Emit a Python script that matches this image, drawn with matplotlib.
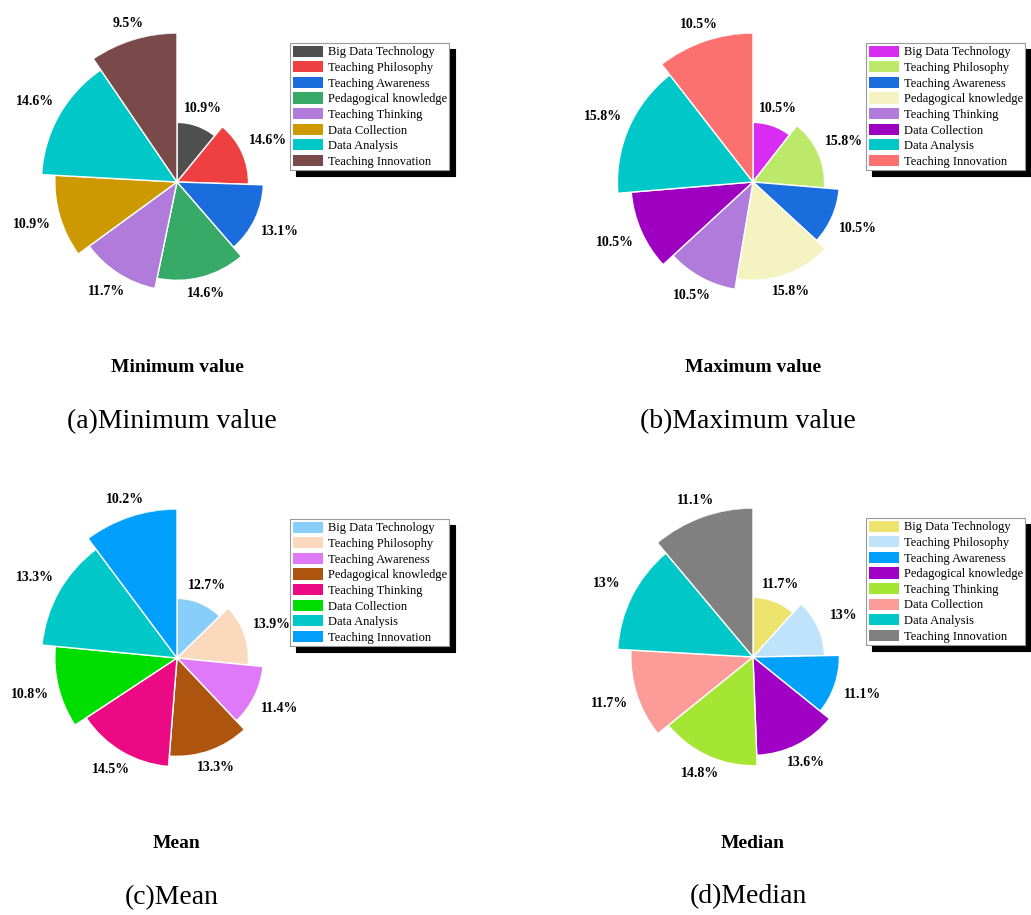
"""Rose-style pie charts of indicator weights (min / max / mean / median)."""

import matplotlib

matplotlib.use("Agg")
import matplotlib.pyplot as plt
import numpy as np

plt.rcParams["font.family"] = ["Liberation Serif", "DejaVu Serif"]

CATEGORIES = [
    "Big Data Technology",
    "Teaching Philosophy",
    "Teaching Awareness",
    "Pedagogical knowledge",
    "Teaching Thinking",
    "Data Collection",
    "Data Analysis",
    "Teaching Innovation",
]

MIN_VALUES = [10.9, 14.6, 13.1, 14.6, 11.7, 10.9, 14.6, 9.5]
MAX_VALUES = [10.5, 15.8, 10.5, 15.8, 10.5, 10.5, 15.8, 10.5]
MEAN_VALUES = [12.7, 13.9, 11.4, 13.3, 14.5, 10.8, 13.3, 10.2]
MEDIAN_VALUES = [11.7, 13, 11.1, 13.6, 14.8, 11.7, 13, 11.1]

# sector radius grows with the sector's position in the list
RADII = [0.40, 0.48, 0.58, 0.66, 0.73, 0.82, 0.91, 1.0]

MIN_COLORS = ["#4f4f4f", "#ee4040", "#1b6dde", "#37aa68", "#b07bdb", "#cc9900", "#00c8c8", "#7a4a4a"]
MAX_COLORS = ["#d92cf2", "#bce96a", "#1a6ddd", "#f6f3c2", "#b07bdb", "#9e00c2", "#00c8c8", "#fb716f"]
MEAN_COLORS = ["#87cefa", "#fad9bd", "#e079f7", "#ad540f", "#ec0a84", "#00dd00", "#00c8c8", "#009ffb"]
MEDIAN_COLORS = ["#ece46d", "#bfe3fb", "#00a0fb", "#a100c5", "#a5e634", "#fb9c98", "#00c8c8", "#808080"]

W, H = 1031, 915


def fx(px):
    return px / W


def fy(py):
    return 1 - py / H


def rose(fig, cx, cy, values, colors, subtitle, caption, rmax=149):
    ax = fig.add_axes([fx(cx - rmax), fy(cy + rmax), 2 * rmax / W, 2 * rmax / H], projection="polar")
    ax.set_theta_zero_location("N")
    ax.set_theta_direction(-1)
    vals = np.array(values, dtype=float)
    widths = vals / vals.sum() * 2 * np.pi
    starts = np.concatenate([[0], np.cumsum(widths)[:-1]])
    bars = ax.bar(starts, RADII, width=widths, align="edge", color=colors,
                  edgecolor="white", linewidth=1.0)
    for start, width, r, v in zip(starts, widths, RADII, values):
        mid = start + width / 2
        off = 0.08 + 0.12 * abs(np.sin(mid))
        ax.text(mid, r + off, f"{v:g}%", ha="center", va="center",
                fontsize=10, fontweight="bold")
    ax.set_ylim(0, 1)
    ax.set_axis_off()

    lx, ly = cx + 113, cy - 139
    leg = ax.legend(bars, CATEGORIES, loc="upper left", bbox_to_anchor=(fx(lx), fy(ly)),
                    bbox_transform=fig.transFigure, fontsize=9, frameon=True,
                    fancybox=False, framealpha=1, edgecolor="#999999",
                    borderpad=0.2, labelspacing=0.22, handlelength=2.4,
                    handleheight=1.0, handletextpad=0.4, borderaxespad=0,
                    shadow={"ox": 4, "oy": -4, "facecolor": "black",
                            "edgecolor": "black", "alpha": 1})
    leg.get_frame().set_linewidth(0.8)
    for h in leg.legend_handles:
        h.set_edgecolor("none")

    fig.text(fx(cx), fy(cy + 186), subtitle, ha="center", va="center",
             fontsize=14, fontweight="bold")
    fig.text(fx(cx - 5), fy(cy + 240), caption, ha="center", va="center", fontsize=20)


def main():
    fig = plt.figure(figsize=(W / 100, H / 100), dpi=100)
    rose(fig, 177, 182, MIN_VALUES, MIN_COLORS, "Minimum value", "(a)Minimum value")
    rose(fig, 753, 182, MAX_VALUES, MAX_COLORS, "Maximum value", "(b)Maximum value")
    rose(fig, 177, 658, MEAN_VALUES, MEAN_COLORS, "Mean", "(c)Mean")
    rose(fig, 753, 657, MEDIAN_VALUES, MEDIAN_COLORS, "Median", "(d)Median")
    fig.savefig("out.png", dpi=100)
    plt.close(fig)


if __name__ == "__main__":
    main()
